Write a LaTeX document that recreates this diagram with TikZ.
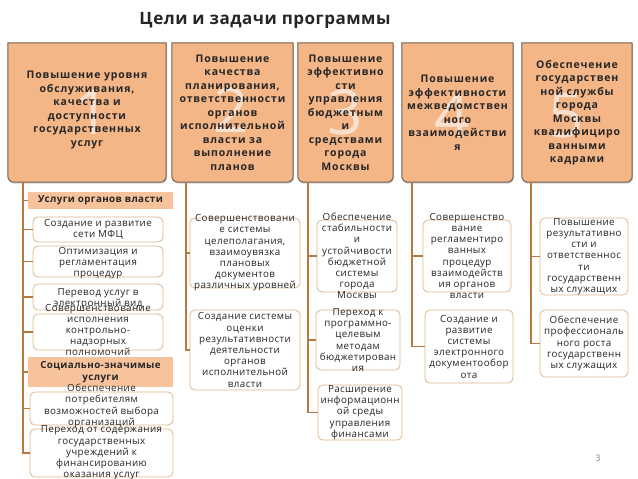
\documentclass[tikz,border=0pt]{standalone}
\usepackage{fontspec}
\setmainfont{Open Sans}
\newfontfamily\hdrfont[LetterSpace=8]{Open Sans}
\newfontfamily\kidfont[LetterSpace=4]{Open Sans}
\newfontfamily\ttlfont[LetterSpace=3]{Open Sans}
\usetikzlibrary{shadows}
\definecolor{hdrfill}{HTML}{F4B687}
\definecolor{hdrborder}{HTML}{6E5F50}
\definecolor{bandfill}{HTML}{F7C39C}
\definecolor{kidborder}{HTML}{DDB58C}
\definecolor{conncol}{HTML}{B8793F}
\definecolor{txt}{HTML}{262626}
\tikzset{
  hdrshape/.style={draw=hdrborder, fill=hdrfill, line width=1pt,
    drop shadow={opacity=0.35, shadow xshift=1pt, shadow yshift=-1.5pt}},
  hdrbox/.style={inner sep=0pt, minimum height=139pt},
  htext/.style={font=\hdrfont\bfseries\fontsize{10.5}{13.5}\selectfont, align=center, text=txt, inner sep=0pt},
  digit/.style={font=\fontsize{62}{62}\selectfont, text=white, opacity=0.6, inner sep=0pt},
  kid/.style={draw=kidborder, line width=0.8pt, rounded corners=5pt, fill=white, inner sep=0pt},
  ktext/.style={font=\kidfont\fontsize{9.8}{11.2}\selectfont, align=center, text=txt, inner sep=0pt},
  band/.style={fill=bandfill, inner sep=0pt, font=\kidfont\bfseries\fontsize{9.8}{12}\selectfont, align=center, text=txt},
  conn/.style={draw=conncol, line width=1.6pt},
}
\begin{document}
\begin{tikzpicture}[x=1pt,y=-1pt]
\useasboundingbox (0,0) rectangle (638,479);
\node[font=\ttlfont\bfseries\fontsize{17}{20}\selectfont, text=txt] (title) at (265,20) {Цели и задачи программы};

% header boxes
\node[hdrbox, minimum width=158pt] (h1) at (87,112.5) {};
\node[hdrbox, minimum width=121pt] (h2) at (232.5,112.5) {};
\node[hdrbox, minimum width=95pt]  (h3) at (345.5,112.5) {};
\node[hdrbox, minimum width=111pt] (h4) at (457.5,112.5) {};
\node[hdrbox, minimum width=110pt] (h5) at (577,112.5) {};
\foreach \h in {h1,h2,h3,h4,h5}{
  \path[hdrshape] (\h.north west) -- (\h.north east) [rounded corners=6pt] -- (\h.south east) -- (\h.south west) [sharp corners] -- cycle;
}
\node[digit] (d1) at (92,112) {1};
\node[digit] (d2) at (231,110) {2};
\node[digit] (d3) at (345,112) {3};
\node[digit] (d4) at (452,115) {4};
\node[digit] (d5) at (566,116) {5};
\node[htext] (h1t) at (87,110) {Повышение уровня\\обслуживания,\\качества и\\доступности\\государственных\\услуг};
\node[htext] (h2t) at (h2) {Повышение\\качества\\планирования,\\ответственности\\органов\\исполнительной\\власти за\\выполнение\\планов};
\node[htext] (h3t) at (h3) {Повышение\\эффективно\\сти\\управления\\бюджетным\\и\\средствами\\города\\Москвы};
\node[htext] (h4t) at (457.5,113) {Повышение\\эффективности\\межведомствен\\ного\\взаимодействи\\я};
\node[htext] (h5t) at (h5) {Обеспечение\\государствен\\ной службы\\города\\Москвы\\квалифициро\\ванными\\кадрами};

% trunk tops
\coordinate (t1) at (23,182);
\coordinate (t2) at (186,182);
\coordinate (t3) at (308,182);
\coordinate (t4) at (412,182);
\coordinate (t5) at (531,182);

% column 1
\node[band, minimum width=145pt, minimum height=17pt] (b1) at (100.5,200.5) {Услуги органов власти};
\node[kid, minimum width=130pt, minimum height=25pt] (c11) at (98,229.5) {};
\node[kid, minimum width=130pt, minimum height=31pt] (c12) at (98,261.5) {};
\node[kid, minimum width=130pt, minimum height=26pt] (c13) at (98,297) {};
\node[kid, minimum width=130pt, minimum height=36pt] (c14) at (98,332) {};
\node[band, minimum width=145pt, minimum height=30pt] (b2) at (100.5,372) {Социально-значимые\\услуги};
\node[kid, minimum width=143pt, minimum height=33pt] (c15) at (101.5,408.5) {};
\node[kid, minimum width=143pt, minimum height=48pt] (c16) at (101.5,453) {};
\node[ktext] (c11t) at (c11) {Создание и развитие\\сети МФЦ};
\node[ktext] (c12t) at (98,263) {Оптимизация и\\регламентация\\процедур};
\node[ktext] (c13t) at (98,299) {Перевод услуг в\\электронный вид};
\node[ktext] (c14t) at (98,330) {Совершенствование\\исполнения\\контрольно-\\надзорных\\полномочий};
\node[ktext] (c15t) at (101.5,406) {Обеспечение\\потребителям\\возможностей выбора\\организаций};
\node[ktext] (c16t) at (101.5,453) {Переход от содержания\\государственных\\учреждений к\\финансированию\\оказания услуг};

% column 2
\node[kid, minimum width=110pt, minimum height=70pt] (c21) at (245,253) {};
\node[kid, minimum width=110pt, minimum height=80pt] (c22) at (245,350) {};
\node[ktext] (c21t) at (c21) {Совершенствовани\\е системы\\целеполагания,\\взаимоувязка\\плановых\\документов\\различных уровней};
\node[ktext] (c22t) at (c22) {Создание системы\\оценки\\результативности\\деятельности\\органов\\исполнительной\\власти};

% column 3
\node[kid, minimum width=80pt, minimum height=72pt] (c31) at (357,256) {};
\node[kid, minimum width=84pt, minimum height=60pt] (c32) at (358,340) {};
\node[kid, minimum width=84pt, minimum height=55pt] (c33) at (360,412.5) {};
\node[ktext] (c31t) at (c31) {Обеспечение\\стабильности\\и\\устойчивости\\бюджетной\\системы\\города\\Москвы};
\node[ktext] (c32t) at (c32) {Переход к\\программно-\\целевым\\методам\\бюджетирован\\ия};
\node[ktext] (c33t) at (c33) {Расширение\\информационн\\ой среды\\управления\\финансами};

% column 4
\node[kid, minimum width=88pt, minimum height=72pt] (c41) at (467,256) {};
\node[kid, minimum width=88pt, minimum height=73pt] (c42) at (469,346.5) {};
\node[ktext] (c41t) at (c41) {Совершенство\\вание\\регламентиро\\ванных\\процедур\\взаимодейств\\ия органов\\власти};
\node[ktext] (c42t) at (c42) {Создание и\\развитие\\системы\\электронного\\документообор\\ота};

% column 5
\node[kid, minimum width=88pt, minimum height=77pt] (c51) at (584,256.5) {};
\node[kid, minimum width=88pt, minimum height=67pt] (c52) at (584,343.5) {};
\node[ktext] (c51t) at (c51) {Повышение\\результативно\\сти и\\ответственнос\\ти\\государственн\\ых служащих};
\node[ktext] (c52t) at (c52) {Обеспечение\\профессиональ\\ного роста\\государственн\\ых служащих};

% connectors
\foreach \c in {b1,c11,c12,c13,c14,b2,c15,c16}{ \draw[conn] (t1) |- (\c.west); }
\foreach \c in {c21,c22}{ \draw[conn] (t2) |- (\c.west); }
\foreach \c in {c31,c32,c33}{ \draw[conn] (t3) |- (\c.west); }
\foreach \c in {c41,c42}{ \draw[conn] (t4) |- (\c.west); }
\foreach \c in {c51,c52}{ \draw[conn] (t5) |- (\c.west); }

\node[font=\fontsize{9}{11}\selectfont, text=gray] (pg) at (598,458) {3};
\end{tikzpicture}
\end{document}
